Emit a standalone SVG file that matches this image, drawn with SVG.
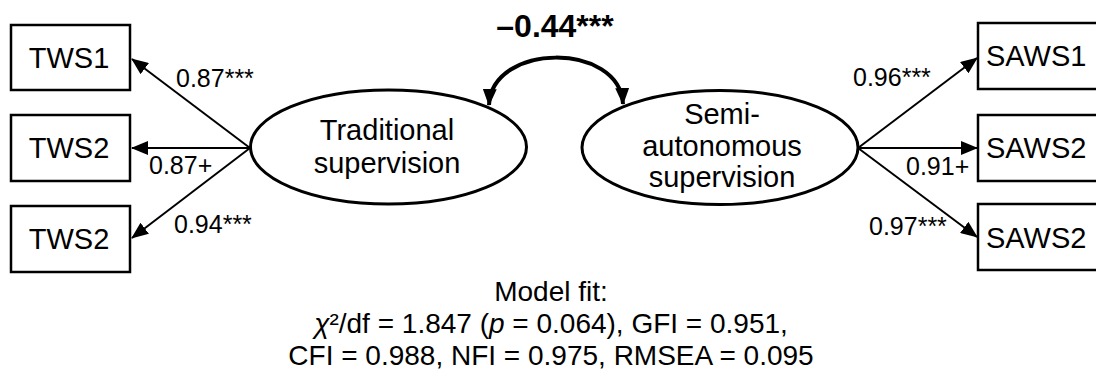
<svg xmlns="http://www.w3.org/2000/svg" width="1096" height="376" viewBox="0 0 1096 376">
<style>
  text { font-family: "Liberation Sans", Arial, sans-serif; fill: #000; }
  .box { fill: #fff; stroke: #000; stroke-width: 2.5; }
  .lat { fill: #fff; stroke: #000; stroke-width: 3; }
  .lbl { font-size: 29px; }
  .coef { font-size: 25px; }
  .fit { font-size: 28px; text-anchor: middle; }
  .path { fill: none; stroke: #000; stroke-width: 2; }
  .cov { fill: none; stroke: #000; stroke-width: 4; }
</style>
<defs>
  <marker id="ah" markerUnits="userSpaceOnUse" markerWidth="17" markerHeight="14" refX="16" refY="7" orient="auto-start-reverse" viewBox="0 0 17 14">
    <path d="M0,0 L17,7 L0,14 Z" fill="#000"/>
  </marker>
</defs>
<g id="connectors">
  <line class="path" x1="250" y1="148" x2="132" y2="59" marker-end="url(#ah)"/>
  <line class="path" x1="250" y1="148" x2="132" y2="148" marker-end="url(#ah)"/>
  <line class="path" x1="250" y1="148" x2="132" y2="238" marker-end="url(#ah)"/>
  <line class="path" x1="858" y1="148" x2="977" y2="58" marker-end="url(#ah)"/>
  <line class="path" x1="858" y1="148" x2="977" y2="148" marker-end="url(#ah)"/>
  <line class="path" x1="858" y1="148" x2="977" y2="237" marker-end="url(#ah)"/>
  <path class="cov" d="M489,105 C492,42 620,42 623,104" marker-start="url(#ah)" marker-end="url(#ah)"/>
  <text class="coef" x="176" y="87">0.87***</text>
  <text class="coef" x="149" y="174">0.87+</text>
  <text class="coef" x="174" y="233">0.94***</text>
  <text class="coef" x="853" y="86">0.96***</text>
  <text class="coef" x="906" y="175">0.91+</text>
  <text class="coef" x="869" y="235">0.97***</text>
  <text x="555" y="37" font-size="32" font-weight="bold" text-anchor="middle">–0.44***</text>
</g>
<g id="TWS1">
  <rect class="box" x="11" y="25" width="119" height="65"/>
  <text class="lbl" x="69" y="68" text-anchor="middle">TWS1</text>
</g>
<g id="TWS2a">
  <rect class="box" x="11" y="115" width="119" height="66"/>
  <text class="lbl" x="69" y="158" text-anchor="middle">TWS2</text>
</g>
<g id="TWS2b">
  <rect class="box" x="11" y="206" width="119" height="66"/>
  <text class="lbl" x="69" y="249" text-anchor="middle">TWS2</text>
</g>
<g id="SAWS1">
  <rect class="box" x="978" y="23" width="130" height="66"/>
  <text class="lbl" x="986" y="66">SAWS1</text>
</g>
<g id="SAWS2a">
  <rect class="box" x="978" y="115" width="130" height="66"/>
  <text class="lbl" x="986" y="158">SAWS2</text>
</g>
<g id="SAWS2b">
  <rect class="box" x="978" y="204" width="130" height="66"/>
  <text class="lbl" x="986" y="248">SAWS2</text>
</g>
<g id="traditional">
  <ellipse class="lat" cx="388.5" cy="147" rx="138" ry="57"/>
  <text class="lbl" x="387" y="140" text-anchor="middle">Traditional</text>
  <text class="lbl" x="387" y="173" text-anchor="middle">supervision</text>
</g>
<g id="semiautonomous">
  <ellipse class="lat" cx="720" cy="147.5" rx="138" ry="57"/>
  <text class="lbl" x="722" y="124" text-anchor="middle">Semi-</text>
  <text class="lbl" x="722" y="156" text-anchor="middle">autonomous</text>
  <text class="lbl" x="722" y="187" text-anchor="middle">supervision</text>
</g>
<g id="modelfit">
  <text class="fit" x="551" y="301">Model fit:</text>
  <text class="fit" x="551" y="333"><tspan font-style="italic">χ</tspan>²/df = 1.847 (<tspan font-style="italic">p</tspan> = 0.064), GFI = 0.951,</text>
  <text class="fit" x="551" y="365">CFI = 0.988, NFI = 0.975, RMSEA = 0.095</text>
</g>
</svg>
